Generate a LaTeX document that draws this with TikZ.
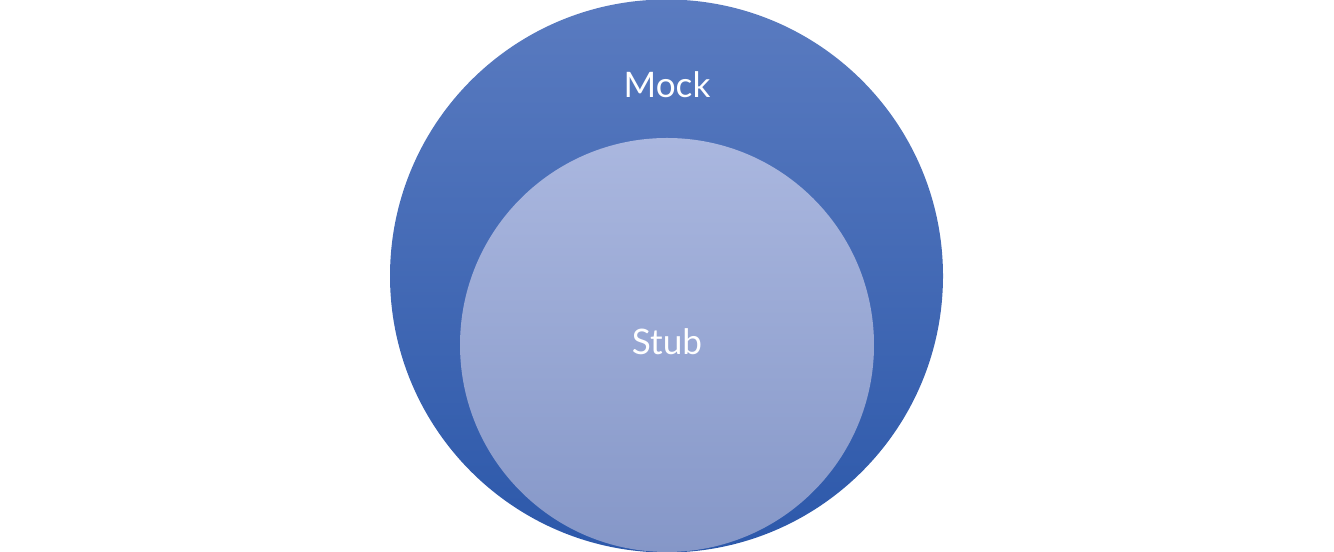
\documentclass[tikz,border=0pt]{standalone}
\usepackage{fontspec}
\setmainfont{Lato}
\usepackage{xcolor}
\usetikzlibrary{positioning}

\definecolor{mockTop}{HTML}{5A7BC0}
\definecolor{mockBottom}{HTML}{2C58AA}
\definecolor{stubTop}{HTML}{AAB7DF}
\definecolor{stubBottom}{HTML}{8597C8}

\begin{document}
\begin{tikzpicture}[every node/.style={circle, inner sep=0pt},
  mockcircle/.style={minimum size=11.06cm, top color=mockTop, bottom color=mockBottom},
  stubcircle/.style={minimum size=8.28cm, top color=stubTop, bottom color=stubBottom},
  circlelabel/.style={rectangle, text=white, font=\fontsize{20}{24}\selectfont}]
\useasboundingbox (0,0) rectangle (26.68,11.04);
\node[mockcircle] (mock) at (13.33,5.52) {};
\node[stubcircle] (stub) at (13.34,4.14) {};
\node[circlelabel] (mocklabel) at (13.34,9.34) {Mock};
\node[circlelabel, above=0.06cm of stub.center, anchor=center] (stublabel) {Stub};
\end{tikzpicture}
\end{document}
